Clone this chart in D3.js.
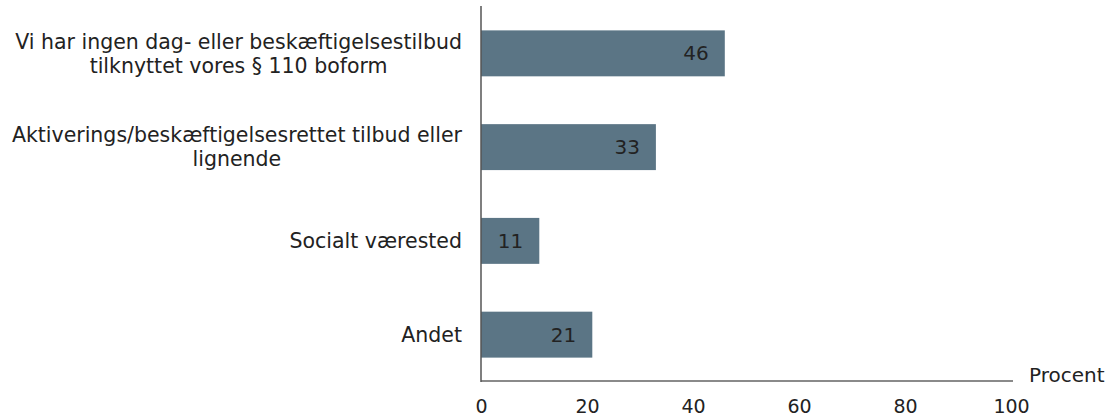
<!DOCTYPE html>
<html>
<head>
<meta charset="utf-8">
<script src="https://cdn.jsdelivr.net/npm/d3@7"></script>
<style>
  body { margin: 0; background: #fff; }
  text { font-family: "DejaVu Sans", Verdana, sans-serif; }
</style>
</head>
<body>
<script>
// data
const categories = [
  ['Vi har ingen dag- eller beskæftigelsestilbud', 'tilknyttet vores § 110 boform'],
  ['Aktiverings/beskæftigelsesrettet tilbud eller', 'lignende'],
  ['Socialt værested'],
  ['Andet']
];
const values = [46, 33, 11, 21];
const xTicks = [0, 20, 40, 60, 80, 100];
const xTitle = 'Procent';

const w = 1113;
const h = 418;
const plotLeft = 481;
const plotRight = 1011;
const plotTop = 6;
const plotBottom = 381;

const svg = d3.select('body').append('svg')
  .attr('width', w)
  .attr('height', h);

const xScale = d3.scaleLinear().domain([0, 100]).range([plotLeft, plotRight]);

const yScale = d3.scaleBand()
  .domain(d3.range(values.length))
  .range([6, 382])
  .paddingInner(0.51)
  .paddingOuter(0.26);

// bars
svg.selectAll('rect.bar')
  .data(values)
  .enter()
  .append('rect')
  .attr('class', 'bar')
  .attr('x', xScale(0))
  .attr('y', (d, i) => yScale(i))
  .attr('width', (d) => xScale(d) - xScale(0))
  .attr('height', yScale.bandwidth())
  .style('fill', '#5b7585');

// value labels
svg.selectAll('text.val')
  .data(values)
  .enter()
  .append('text')
  .attr('class', 'val')
  .attr('x', (d) => xScale(d) - 16)
  .attr('y', (d, i) => yScale(i) + yScale.bandwidth() / 2)
  .attr('dy', '0.35em')
  .attr('text-anchor', 'end')
  .style('font-size', '20px')
  .style('fill', '#222')
  .text((d) => d);

// category labels, block right aligned, lines centered
categories.forEach((lines, i) => {
  const g = svg.append('g');
  const cy = yScale(i) + yScale.bandwidth() / 2;
  const lh = 24;
  const texts = lines.map((l, j) =>
    g.append('text')
      .attr('y', cy + (j - (lines.length - 1) / 2) * lh)
      .attr('dy', '0.35em')
      .attr('text-anchor', 'middle')
      .style('font-size', '20.5px')
      .style('fill', '#222')
      .text(l)
  );
  const maxW = d3.max(texts, (t) => t.node().getComputedTextLength());
  texts.forEach((t) => t.attr('x', 462 - maxW / 2));
});

// axes
const xAxis = d3.axisBottom(xScale).tickValues(xTicks).tickSize(0).tickPadding(19);
const gx = svg.append('g')
  .attr('transform', 'translate(0,' + plotBottom + ')')
  .call(xAxis);
gx.select('.domain').attr('stroke', '#8a8a8a').attr('stroke-width', 2)
  .attr('d', 'M' + plotLeft + ',0H' + (plotRight + 2));
gx.selectAll('text')
  .style('font-size', '19px')
  .style('font-family', '"DejaVu Sans", Verdana, sans-serif')
  .style('fill', '#222');

svg.append('line')
  .attr('x1', plotLeft).attr('x2', plotLeft)
  .attr('y1', plotTop).attr('y2', plotBottom + 1)
  .attr('stroke', '#555')
  .attr('stroke-width', 1.5);

svg.append('text')
  .attr('x', 1029)
  .attr('y', 375)
  .attr('dy', '0.35em')
  .style('font-size', '20px')
  .style('fill', '#222')
  .text(xTitle);
</script>
</body>
</html>
